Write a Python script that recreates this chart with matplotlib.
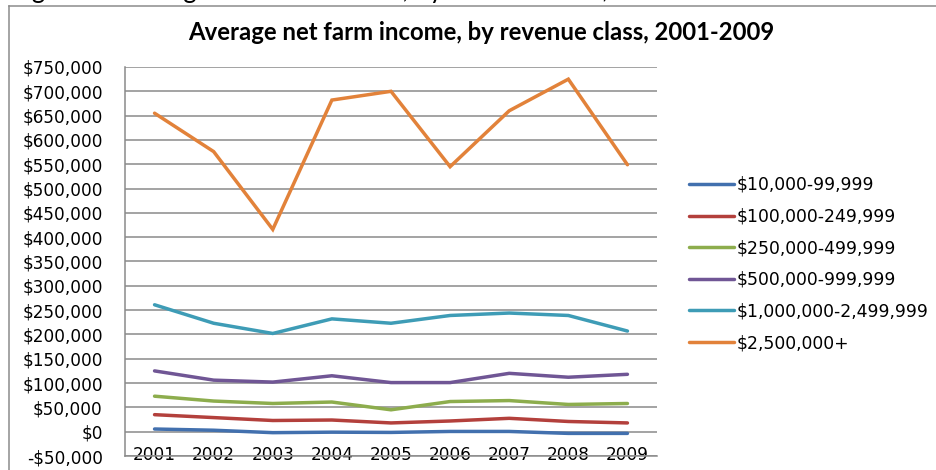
import matplotlib
matplotlib.use("Agg")
import matplotlib.pyplot as plt
from matplotlib.lines import Line2D
from matplotlib.ticker import FuncFormatter, MultipleLocator

years = ["2001", "2002", "2003", "2004", "2005", "2006", "2007", "2008", "2009"]

rev_10k_99k = [5500, 3000, -2000, -1000, -1500, 500, 500, -3500, -3500]
rev_100k_249k = [35000, 29000, 23000, 24000, 18000, 22000, 27500, 21000, 18000]
rev_250k_499k = [73000, 63000, 58000, 61000, 45000, 62000, 64000, 56000, 58000]
rev_500k_999k = [125000, 106000, 102000, 115000, 101000, 101000, 120000, 112000, 118000]
rev_1m_2_5m = [261000, 223000, 202000, 232000, 223000, 239000, 244000, 239000, 207000]
rev_2_5m_plus = [655000, 576000, 416000, 682000, 700000, 545000, 660000, 725000, 549000]

series_labels = ["$10,000-99,999", "$100,000-249,999", "$250,000-499,999",
                 "$500,000-999,999", "$1,000,000-2,499,999", "$2,500,000+"]
series_values = [rev_10k_99k, rev_100k_249k, rev_250k_499k,
                 rev_500k_999k, rev_1m_2_5m, rev_2_5m_plus]
series_colors = ["#4270AE", "#B3403C", "#8DAD4D", "#705695", "#3E9CB6", "#E2823A"]

W, H = 937, 470
fig = plt.figure(figsize=(W / 100, H / 100), dpi=100)

# chart-area frame (only top and left edges fall inside the image)
frame_col = "#8C8C8C"
fig.add_artist(Line2D([9 / W, 9 / W], [0, 1 - 6 / H], color=frame_col, lw=1.1,
                      transform=fig.transFigure))
fig.add_artist(Line2D([9 / W, 1.0], [1 - 6 / H, 1 - 6 / H], color=frame_col, lw=1.1,
                      transform=fig.transFigure))

# document caption sitting above the chart box
fig.text(0.012, 1 + 1.5 / H, "Figure 2. Average net farm income, by revenue class, 2001-2009",
         fontsize=18.5, family="Lato", va="baseline", ha="left", color="black")

ax = fig.add_axes([125 / W, 1 - 456 / H, (657 - 125) / W, (456 - 67) / H])

x = list(range(len(years)))
for vals, lab, col in zip(series_values, series_labels, series_colors):
    ax.plot(x, vals, color=col, lw=2.5, label=lab, solid_capstyle="round",
            solid_joinstyle="miter")

ax.set_xlim(-0.5, len(years) - 0.5)
ax.set_ylim(-50000, 750000)
ax.yaxis.set_major_locator(MultipleLocator(50000))


def money(v, _pos):
    v = int(round(v))
    if v < 0:
        return "-${:,}".format(-v)
    return "${:,}".format(v)


ax.yaxis.set_major_formatter(FuncFormatter(money))
ax.set_xticks(x)
ax.set_xticklabels(years)

grid_col = "#8A8A8A"
ax.grid(axis="y", color=grid_col, lw=1.1)
ax.set_axisbelow(True)
for side in ("top", "right"):
    ax.spines[side].set_visible(False)
ax.spines["left"].set_color(grid_col)
ax.spines["bottom"].set_color(grid_col)
ax.spines["left"].set_linewidth(1.1)
ax.spines["bottom"].set_linewidth(1.1)

ax.tick_params(axis="y", length=0, pad=16, labelsize=12.2, labelcolor="black")
ax.tick_params(axis="x", length=0, pad=-7.5, labelsize=12.2, labelcolor="black")
for t in ax.get_yticklabels() + ax.get_xticklabels():
    t.set_family("DejaVu Sans")

fig.text(481 / W, 1 - 33 / H, "Average net farm income, by revenue class, 2001-2009",
         ha="center", va="center", fontsize=17.2, fontweight="bold", family="Lato")

leg = ax.legend(loc="upper left", bbox_to_anchor=(689 / W, 1 - 176 / H),
                bbox_transform=fig.transFigure, frameon=False,
                prop={"family": "DejaVu Sans", "size": 12.4},
                handlelength=2.6, handletextpad=0.15, labelspacing=0.79,
                borderaxespad=0, borderpad=0)

fig.savefig("out.png", dpi=100)
